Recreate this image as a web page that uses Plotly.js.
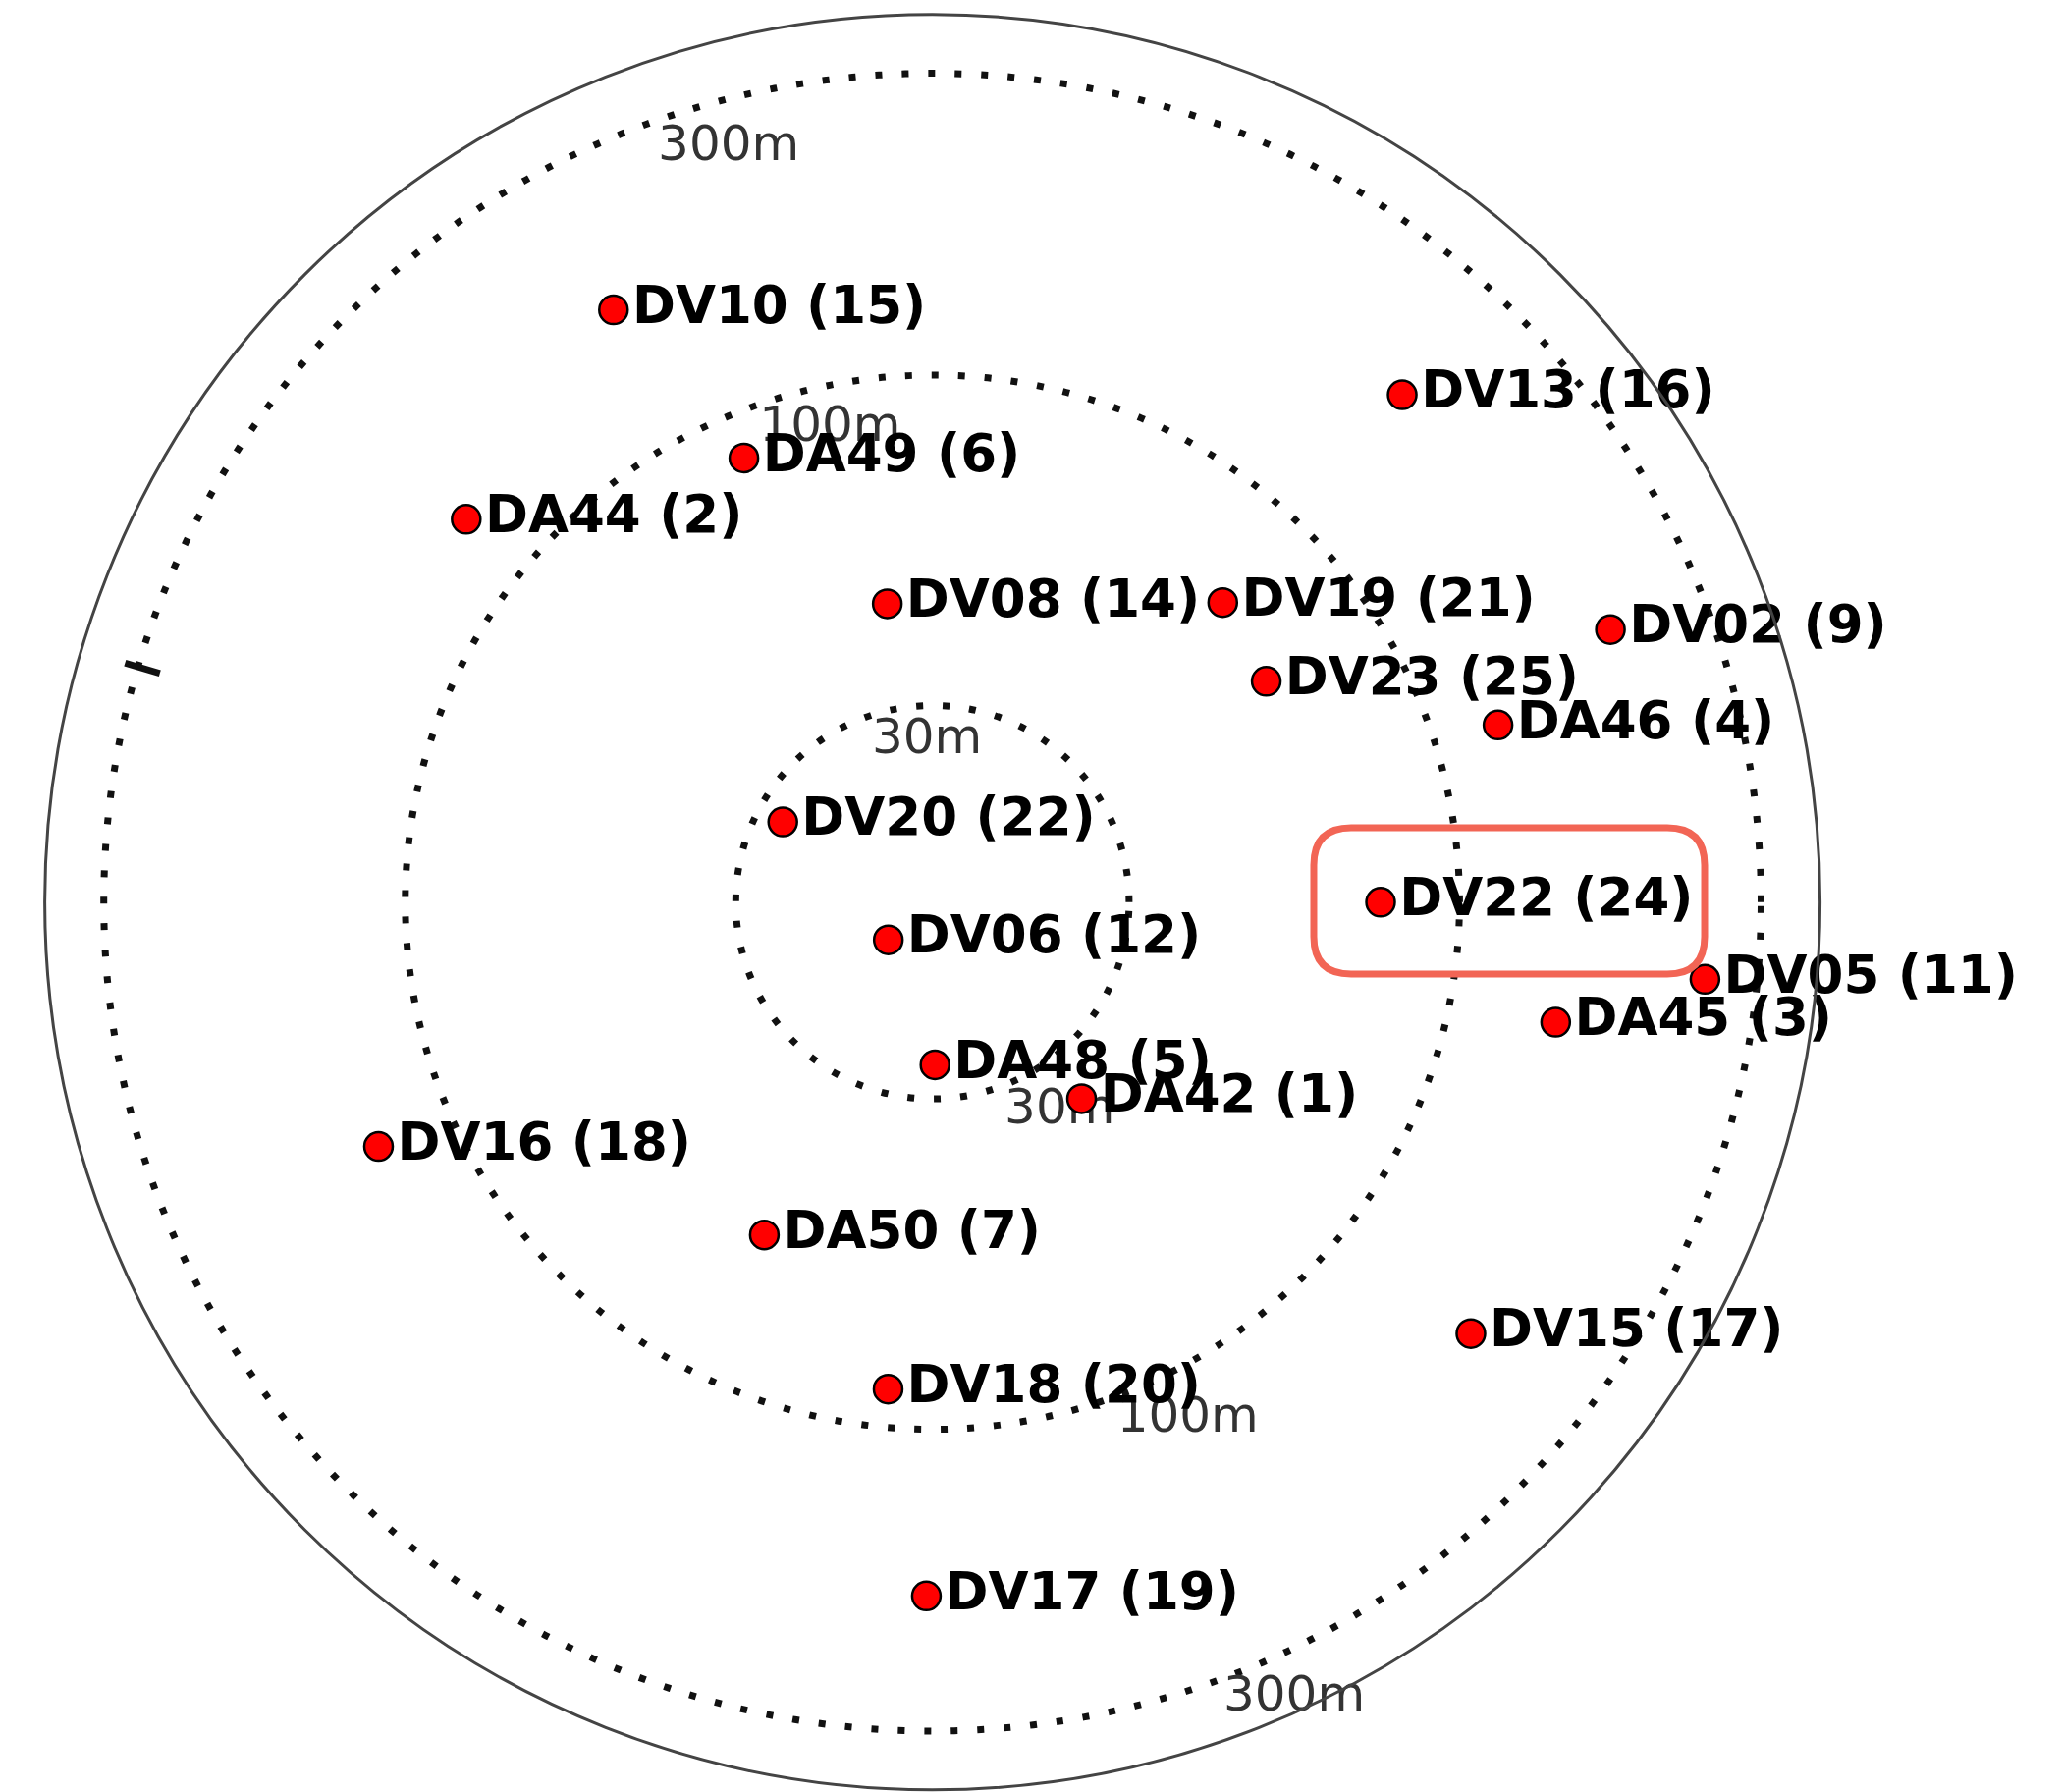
<!DOCTYPE html>
<html>
<head>
<meta charset="utf-8">
<script src="https://cdn.plot.ly/plotly-3.0.1.min.js"></script>
<style>
  html, body { margin: 0; padding: 0; background: #ffffff; }
  #chart { width: 2100px; height: 1825px; }
</style>
</head>
<body>
<div id="chart"></div>
<script>
// ---- data (distance in metres, azimuth in degrees, counter-clockwise from east) ----
const stationLabels = ['DV10 (15)','DV13 (16)','DA49 (6)','DA44 (2)','DV08 (14)','DV19 (21)','DV02 (9)',
  'DV23 (25)','DA46 (4)','DV20 (22)','DV22 (24)','DV06 (12)','DV05 (11)','DA45 (3)','DA48 (5)',
  'DA42 (1)','DV16 (18)','DA50 (7)','DV15 (17)','DV18 (20)','DV17 (19)'];
const stationDist = [170, 182, 85, 132, 44, 67, 210, 63, 127, 27.2, 75, 18.1, 248, 148, 26.5,
  36, 133, 57, 181, 87, 183.5];
const stationAngle = [118.3, 47.2, 113.0, 140.6, 98.6, 45.9, 21.9, 33.5, 17.4, 151.8, 0, 220.5, 354.3, 349.1, 270.9,
  307.2, 203.8, 243.2, 321.3, 264.8, 269.5];

const ringValues = [30, 100, 300];
const ringLabelText = ['300m', '100m', '30m', '30m', '100m', '300m'];
const ringLabelDist = [253, 85.5, 26.4, 35.7, 119.7, 354];
const ringLabelAngle = [105.1, 102.2, 91.9, 301.4, 296.3, 294.45];

const tickMarkDist = [276, 315];
const tickMarkAngle = [163.5, 163.5];

// ---- figure geometry ----
const W = 2100, H = 1825;
const cx = 949.6, cy = 918.8, R = 904;

const traces = [
  {
    type: 'scatterpolar', mode: 'lines',
    r: tickMarkDist, theta: tickMarkAngle,
    line: { color: '#111', width: 7 },
    hoverinfo: 'skip', cliponaxis: false
  },
  {
    type: 'scatterpolar', mode: 'text',
    r: ringLabelDist, theta: ringLabelAngle, text: ringLabelText,
    textposition: 'middle center',
    textfont: { family: 'DejaVu Sans', size: 50, color: '#333' },
    hoverinfo: 'skip', cliponaxis: false
  },
  {
    type: 'scatterpolar', mode: 'markers+text',
    r: stationDist, theta: stationAngle, text: stationLabels,
    textposition: 'middle right',
    textfont: { family: 'DejaVu Sans', size: 53, color: '#000', weight: 'bold' },
    marker: { size: 29, color: '#ff0000', line: { color: '#000', width: 2.5 } },
    cliponaxis: false
  }
];

function px(x) { return (x / W).toFixed(5); }
function py(y) { return (1 - y / H).toFixed(5); }
const bx0 = 1338, bx1 = 1736, by0 = 843, by1 = 992, br = 38;
const boxPath = 'M ' + px(bx0 + br) + ',' + py(by0) +
  ' L ' + px(bx1 - br) + ',' + py(by0) +
  ' Q ' + px(bx1) + ',' + py(by0) + ' ' + px(bx1) + ',' + py(by0 + br) +
  ' L ' + px(bx1) + ',' + py(by1 - br) +
  ' Q ' + px(bx1) + ',' + py(by1) + ' ' + px(bx1 - br) + ',' + py(by1) +
  ' L ' + px(bx0 + br) + ',' + py(by1) +
  ' Q ' + px(bx0) + ',' + py(by1) + ' ' + px(bx0) + ',' + py(by1 - br) +
  ' L ' + px(bx0) + ',' + py(by0 + br) +
  ' Q ' + px(bx0) + ',' + py(by0) + ' ' + px(bx0 + br) + ',' + py(by0) + ' Z';

const layout = {
  width: W, height: H,
  margin: { l: 0, r: 0, t: 0, b: 0, pad: 0 },
  paper_bgcolor: '#ffffff',
  showlegend: false,
  polar: {
    domain: { x: [(cx - R) / W, (cx + R) / W], y: [(H - cy - R) / H, (H - cy + R) / H] },
    bgcolor: '#ffffff',
    radialaxis: {
      type: 'log',
      range: [1.1659, 2.5705],
      tickvals: ringValues,
      showticklabels: false,
      ticks: '',
      showline: false,
      gridcolor: '#111',
      gridwidth: 7,
      griddash: '7px,20px',
      angle: 0
    },
    angularaxis: {
      showgrid: false,
      showticklabels: false,
      ticks: '',
      showline: true,
      linecolor: '#444',
      linewidth: 3,
      rotation: 0,
      direction: 'counterclockwise'
    }
  },
  shapes: [
    {
      type: 'path', xref: 'paper', yref: 'paper', path: boxPath,
      line: { color: 'rgb(242,101,85)', width: 7 },
      fillcolor: 'rgba(0,0,0,0)'
    }
  ]
};

Plotly.newPlot('chart', traces, layout, { staticPlot: true });
</script>
</body>
</html>
